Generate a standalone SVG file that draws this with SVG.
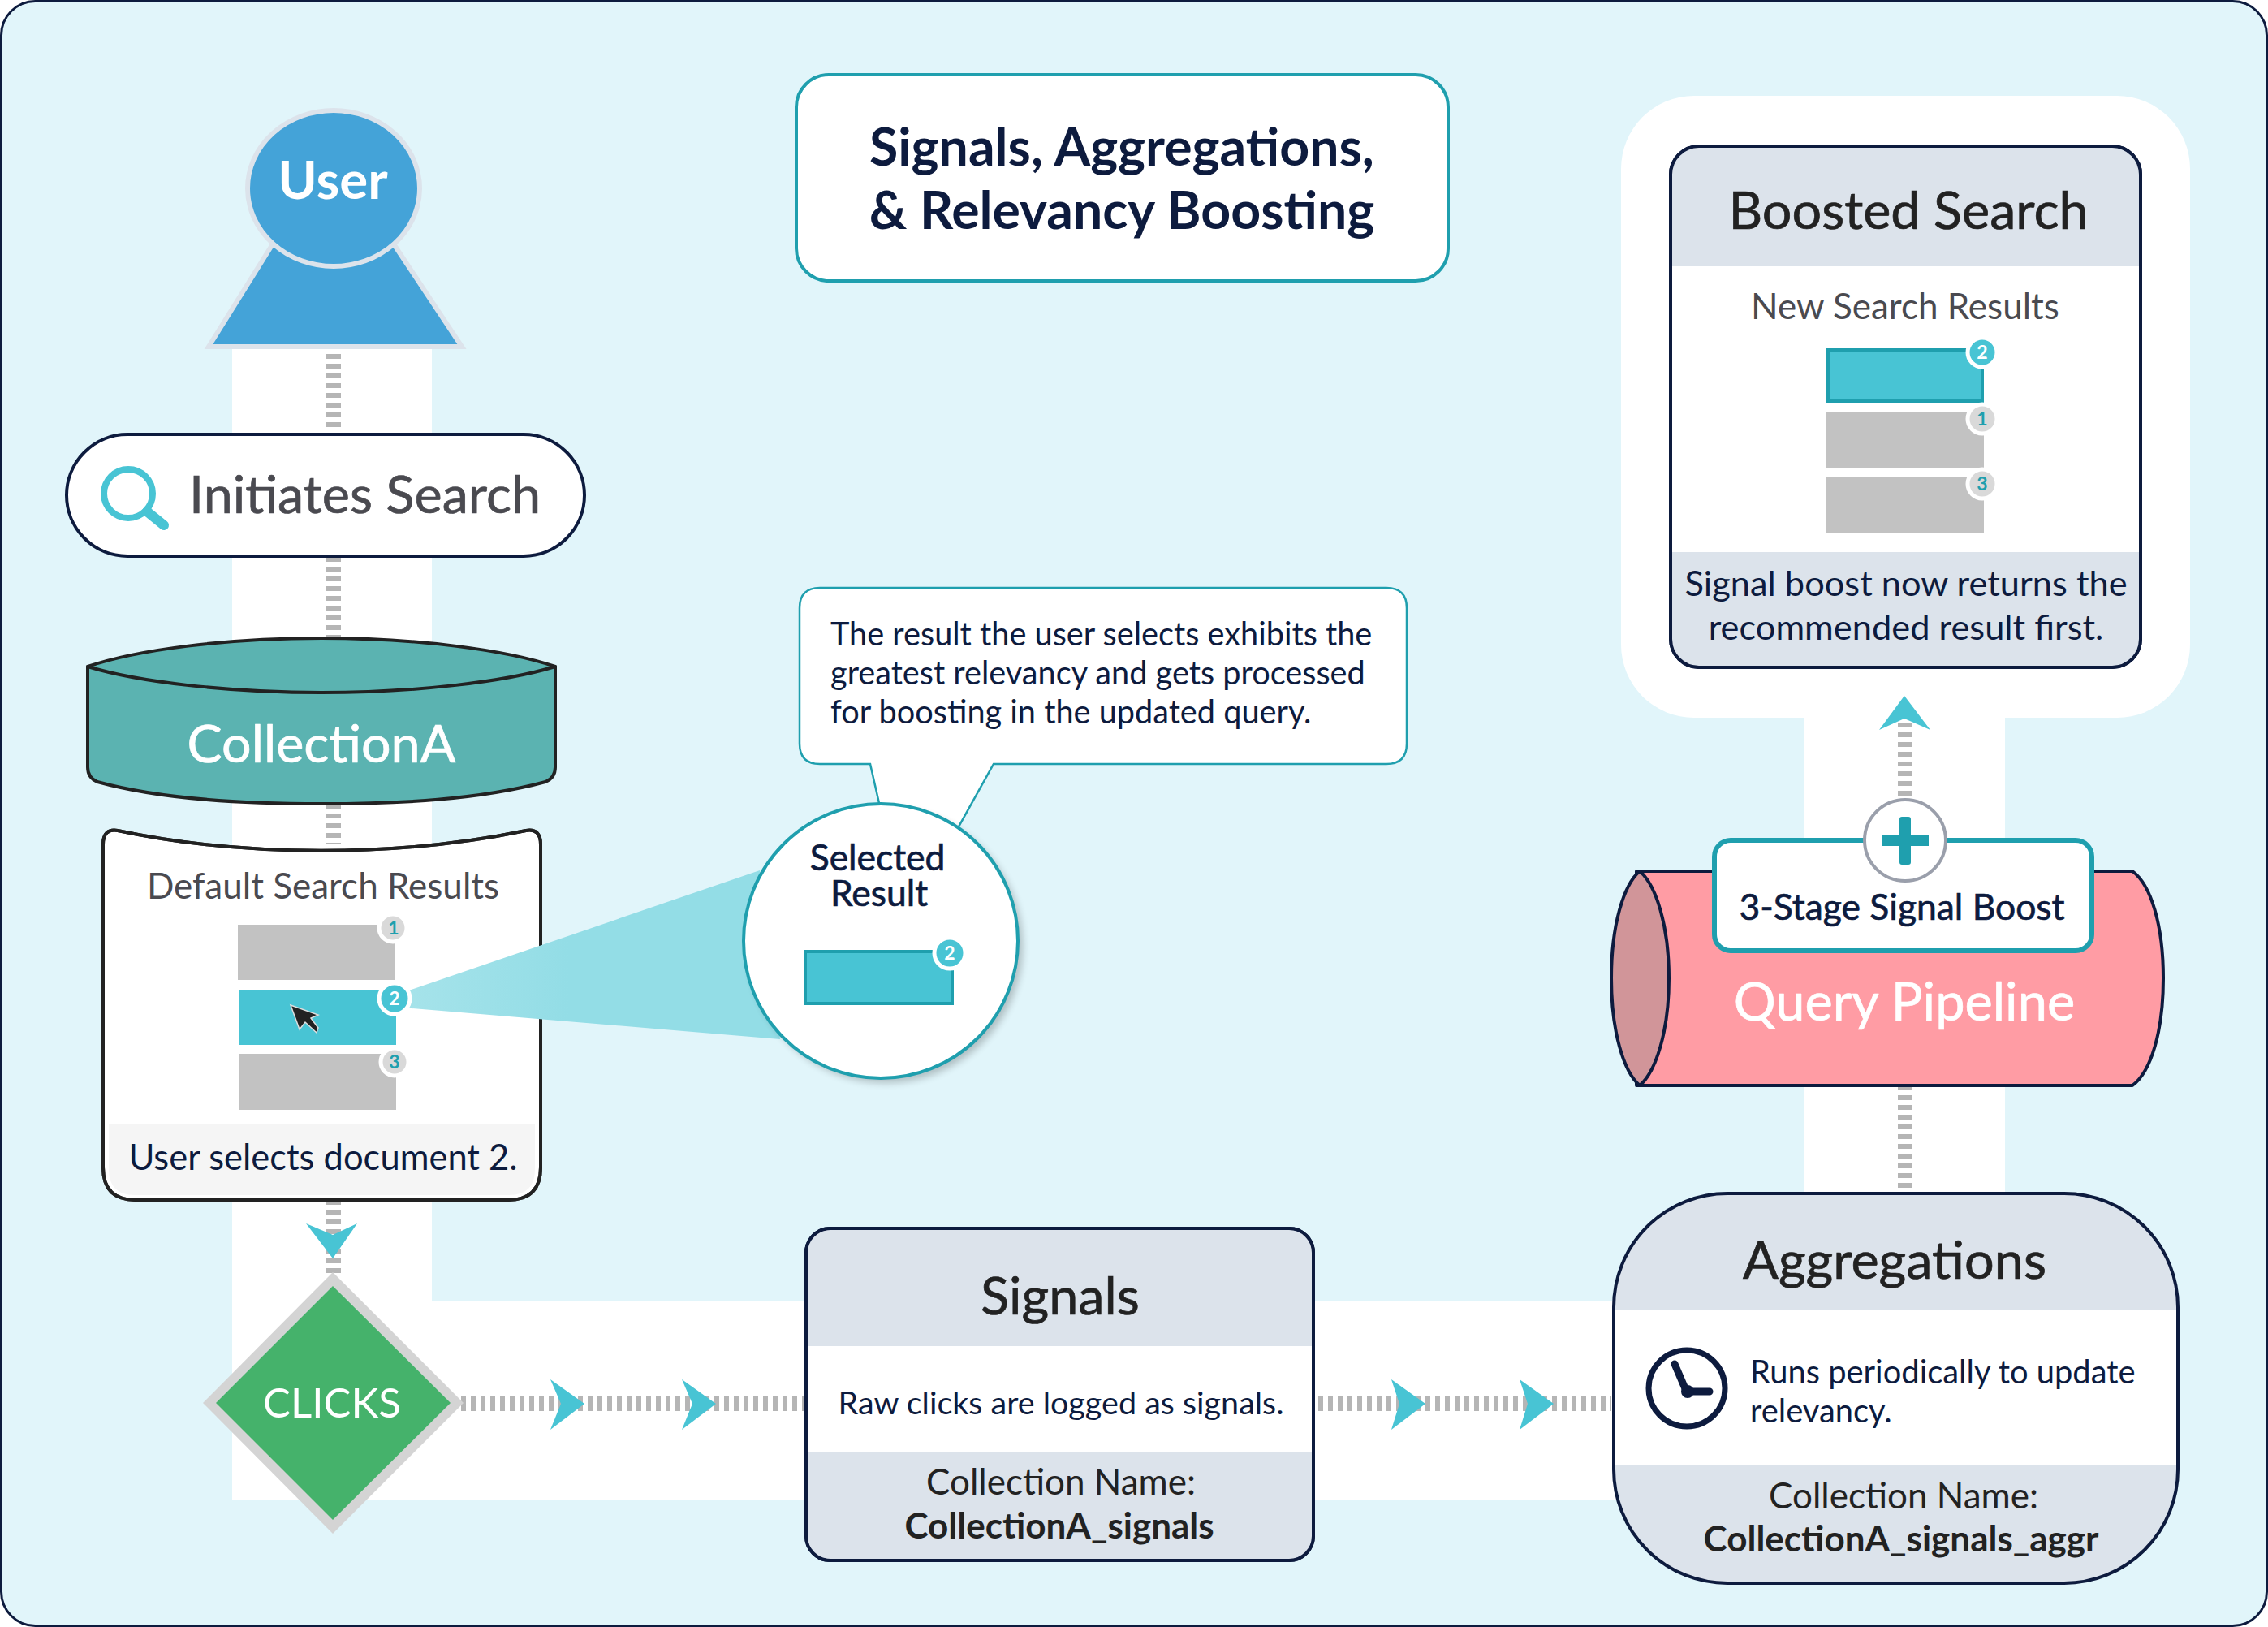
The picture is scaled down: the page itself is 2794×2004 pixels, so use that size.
<svg xmlns="http://www.w3.org/2000/svg" width="2794" height="2004" viewBox="0 0 2794 2004">
<style>
text{font-family:Lato,"Noto Sans","Liberation Sans",sans-serif}
.navy{fill:#0d1b3e}.dark{fill:#222}.grey{fill:#4a4a50}.white{fill:#fff}
.mid{text-anchor:middle}
.dash{fill:none;stroke:#b5b5b5;stroke-width:18;stroke-dasharray:6 6}
.arr{fill:#48c4d4}
.row{fill:#c2c2c2}.sel{fill:#48c4d4}
.bdg{stroke:#fff;stroke-width:5}.bg{fill:#d9d9d9}.bt{fill:#48c4d4}
.num{font-size:23px;text-anchor:middle;font-weight:700}
.hd{fill:#dce3eb}
.md{stroke-width:.7}
.dark.md{stroke:#222}.navy.md{stroke:#0d1b3e}.grey.md{stroke:#4a4a50}.white.md{stroke:#fff}
</style>
<defs>
<filter id="soft" x="-20%" y="-20%" width="140%" height="140%"><feGaussianBlur stdDeviation="5"/></filter>
<linearGradient id="coneFill" gradientUnits="userSpaceOnUse" x1="500" y1="0" x2="700" y2="0"><stop offset="0" stop-color="#a6e3ea"/><stop offset="1" stop-color="#93dde6"/></linearGradient>
</defs>
<rect id="background" x="1.5" y="1.5" width="2791" height="2001" rx="42" fill="#e1f5fa" stroke="#0d1b3e" stroke-width="3"/>
<g id="bands" fill="#fff">
<rect x="286" y="429" width="246" height="1300"/>
<rect x="286" y="1602" width="1720" height="246"/>
<rect x="2223" y="800" width="247" height="680"/>
<rect x="1997" y="118" width="701" height="766" rx="90"/>
</g>
<g id="connectors">
<path class="dash" d="M411 436V530M411 686V790M411 990V1040M411 1478V1570M568 1729H990M1624 1729H1985M2347 890V985M2347 1337V1468"/>
<path class="arr" d="M377 1507L410 1521L440 1507L410 1550Z"/>
<path class="arr" d="M678 1699L720 1729L678 1761L691 1729Z"/>
<path class="arr" d="M840 1699L882 1729L840 1761L853 1729Z"/>
<path class="arr" d="M1714 1699L1756 1729L1714 1761L1724 1729Z"/>
<path class="arr" d="M1872 1699L1914 1729L1872 1761L1882 1729Z"/>
<path class="arr" d="M2346 857L2378 899L2346 885L2315 899Z"/>
</g>
<g id="user">
<path d="M335 302L257 427H569L486 302Z" fill="#44a3d8" stroke="#dce3eb" stroke-width="6"/>
<ellipse cx="411" cy="232" rx="106" ry="96" fill="#44a3d8" stroke="#dce3eb" stroke-width="6"/>
<text class="white mid" x="410" y="245" font-size="65.5" font-weight="700">User</text>
</g>
<g id="initiates-search">
<rect x="82" y="535" width="638" height="150" rx="75" fill="#fff" stroke="#0d1b3e" stroke-width="4"/>
<circle cx="158" cy="608" r="30" fill="none" stroke="#48c4d4" stroke-width="8"/>
<path d="M181 630L202 647" stroke="#48c4d4" stroke-width="12" stroke-linecap="round"/>
<text class="grey md" x="233" y="632" font-size="64.7">Initiates Search</text>
</g>
<g id="collectiona" stroke-linejoin="round">
<path d="M108 821V945Q108 958 120 963C200 985 300 990 396 990S590 985 672 963Q684 958 684 945V821Z" fill="#5bb3b1" stroke="#222" stroke-width="4"/>
<path d="M108 821C170 800 280 786 396 786S622 800 684 821C622 840 510 853 396 853S170 840 108 821Z" fill="#5bb3b1" stroke="#222" stroke-width="4"/>
<text class="white md mid" x="396" y="939" font-size="64.6">CollectionA</text>
</g>
<g id="default-results">
<path d="M127 1040Q127 1020 145 1023C300 1056 490 1056 648 1023Q666 1020 666 1040V1438Q666 1478 626 1478H167Q127 1478 127 1438Z" fill="#fff" stroke="#222" stroke-width="4"/>
<path d="M134 1384H659V1440Q659 1472 627 1472H166Q134 1472 134 1440Z" fill="#f5f5f5"/>
<path d="M127 1040Q127 1020 145 1023C300 1056 490 1056 648 1023Q666 1020 666 1040V1438Q666 1478 626 1478H167Q127 1478 127 1438Z" fill="none" stroke="#222" stroke-width="4"/>
<text class="grey mid" x="398" y="1107" font-size="44">Default Search Results</text>
<rect class="row" x="293" y="1139" width="194" height="68"/>
<rect class="sel" x="294" y="1219" width="194" height="68"/>
<rect class="row" x="294" y="1298" width="194" height="69"/>
<path id="cone" d="M495 1223L936 1072L961 1280L495 1241Z" fill="url(#coneFill)"/>
<circle class="bdg bg" cx="484" cy="1143" r="17"/><text class="num" x="485" y="1151" fill="#1f9fae">1</text>
<circle class="bdg bt" cx="486" cy="1230" r="19"/><text class="num white" x="486" y="1238">2</text>
<circle class="bdg bg" cx="486" cy="1308" r="17"/><text class="num" x="486" y="1316" fill="#1f9fae">3</text>
<path d="M358 1238L369 1268L376 1259L390 1272L392 1266L383 1254L392 1250Z" fill="#222" stroke="#ddd" stroke-width="1.5"/>
<text class="navy mid" x="398" y="1441" font-size="43.5">User selects document 2.</text>
</g>
<g id="callout">
<path d="M1010 724H1708Q1733 724 1733 749V916Q1733 941 1708 941H1224L1180 1020H1090L1072 941H1010Q985 941 985 916V749Q985 724 1010 724Z" fill="#fff" stroke="#1f9fae" stroke-width="2.5"/>
<text class="navy" font-size="39.7"><tspan x="1023" y="795">The result the user selects exhibits the</tspan><tspan x="1023" y="843">greatest relevancy and gets processed</tspan><tspan x="1023" y="891">for boosting in the updated query.</tspan></text>
</g>
<g id="selected-result">
<circle cx="1091" cy="1165" r="169" fill="#000" opacity=".22" filter="url(#soft)"/>
<circle cx="1085" cy="1159" r="169" fill="#fff" stroke="#1f9fae" stroke-width="4"/>
<text class="navy md mid" font-size="44.4"><tspan x="1081" y="1072">Selected</tspan><tspan x="1083" y="1116">Result</tspan></text>
<rect x="992" y="1172" width="181" height="64" fill="#48c4d4" stroke="#1f9fae" stroke-width="4"/>
<circle class="bdg bt" cx="1170" cy="1174" r="19"/><text class="num white" x="1170" y="1182">2</text>
</g>
<g id="title">
<rect x="981" y="92" width="803" height="254" rx="40" fill="#fff" stroke="#1f9fae" stroke-width="4"/>
<text class="navy mid" font-size="64.4" font-weight="700"><tspan x="1382" y="204">Signals, Aggregations,</tspan><tspan x="1382" y="282">&amp; Relevancy Boosting</tspan></text>
</g>
<g id="boosted-search">
<rect x="2058" y="180" width="579" height="642" rx="35" fill="#fff" stroke="#0d1b3e" stroke-width="4"/>
<path class="hd" d="M2060 328V215Q2060 182 2093 182H2602Q2635 182 2635 215V328Z"/>
<path class="hd" d="M2060 680V787Q2060 820 2093 820H2602Q2635 820 2635 787V680Z"/>
<text class="dark md mid" x="2351" y="282" font-size="64.7">Boosted Search</text>
<text class="grey mid" x="2347" y="393" font-size="44">New Search Results</text>
<rect x="2252" y="431" width="190" height="63" fill="#48c4d4" stroke="#1f9fae" stroke-width="4"/>
<rect class="row" x="2250" y="508" width="194" height="68"/>
<rect class="row" x="2250" y="588" width="194" height="68"/>
<circle class="bdg bt" cx="2442" cy="434" r="18"/><text class="num white" x="2442" y="442">2</text>
<circle class="bdg bg" cx="2442" cy="516" r="18"/><text class="num" x="2442" y="524" fill="#1f9fae">1</text>
<circle class="bdg bg" cx="2442" cy="596" r="18"/><text class="num" x="2442" y="604" fill="#1f9fae">3</text>
<text class="navy mid" font-size="43.4"><tspan x="2348" y="734">Signal boost now returns the</tspan><tspan x="2348" y="788">recommended result first.</tspan></text>
<rect x="2058" y="180" width="579" height="642" rx="35" fill="none" stroke="#0d1b3e" stroke-width="4"/>
</g>
<g id="query-pipeline" stroke-linejoin="round">
<path d="M2016 1073H2627C2650 1090 2665 1140 2665 1205S2650 1320 2627 1337H2016Z" fill="#ff9ca4" stroke="#0d1b3e" stroke-width="4"/>
<path d="M2020 1073C2000 1090 1985 1140 1985 1205S2000 1320 2020 1337C2040 1320 2056 1270 2056 1205S2040 1090 2020 1073Z" fill="#d19599" stroke="#0d1b3e" stroke-width="4"/>
<text class="white md mid" x="2346" y="1257" font-size="64.9">Query Pipeline</text>
</g>
<g id="signal-boost">
<rect x="2112" y="1035" width="465" height="136" rx="20" fill="#fff" stroke="#1f9fae" stroke-width="6"/>
<circle cx="2347" cy="1035" r="50" fill="#fff" stroke="#9a9fab" stroke-width="4"/>
<path d="M2340 1009Q2340 1006 2343 1006H2351Q2354 1006 2354 1009V1029H2376V1042H2354V1062Q2354 1065 2351 1065H2343Q2340 1065 2340 1062V1042H2318V1029H2340Z" fill="#1f9fae"/>
<text class="navy md mid" x="2343" y="1133" font-size="44.4">3-Stage Signal Boost</text>
</g>
<g id="clicks">
<path d="M410 1567L571 1728L410 1889L250 1728Z" fill="#d4d4d4"/>
<path d="M410 1584L555 1728L410 1872L266 1728Z" fill="#45b26b"/>
<text class="white mid" x="409" y="1746" font-size="51">CLICKS</text>
</g>
<g id="signals">
<rect x="993" y="1513" width="625" height="409" rx="30" fill="#fff" stroke="#0d1b3e" stroke-width="4"/>
<path class="hd" d="M995 1658V1543Q995 1515 1023 1515H1588Q1616 1515 1616 1543V1658Z"/>
<path class="hd" d="M995 1788V1892Q995 1920 1023 1920H1588Q1616 1920 1616 1892V1788Z"/>
<rect x="993" y="1513" width="625" height="409" rx="30" fill="none" stroke="#0d1b3e" stroke-width="4"/>
<text class="dark md mid" x="1306" y="1619" font-size="64.8">Signals</text>
<text class="navy mid" x="1307" y="1742" font-size="39.5">Raw clicks are logged as signals.</text>
<text class="dark mid" x="1307" y="1841" font-size="44">Collection Name:</text>
<text class="dark mid" x="1305" y="1895" font-size="44" font-weight="700">CollectionA_signals</text>
</g>
<g id="aggregations">
<rect x="1988" y="1470" width="695" height="480" rx="140" fill="#fff"/>
<path class="hd" d="M1988 1614V1610A140 140 0 0 1 2128 1470H2543A140 140 0 0 1 2683 1610V1614Z"/>
<path class="hd" d="M1988 1804V1810A140 140 0 0 0 2128 1950H2543A140 140 0 0 0 2683 1810V1804Z"/>
<rect x="1988" y="1470" width="695" height="480" rx="140" fill="none" stroke="#0d1b3e" stroke-width="4"/>
<text class="dark md mid" x="2334" y="1575" font-size="64.8">Aggregations</text>
<circle cx="2078" cy="1710" r="47" fill="#fff" stroke="#0d1b3e" stroke-width="7"/>
<path d="M2063 1680L2078 1715M2078 1714H2106" fill="none" stroke="#0d1b3e" stroke-width="9" stroke-linecap="round"/>
<circle cx="2079" cy="1714" r="8" fill="#0d1b3e"/>
<text class="navy" x="2156" y="1704" font-size="39.9">Runs periodically to update</text>
<text class="navy" x="2156" y="1752" font-size="39.9">relevancy.</text>
<text class="dark mid" x="2345" y="1858" font-size="44">Collection Name:</text>
<text class="dark mid" x="2342" y="1911" font-size="44" font-weight="700">CollectionA_signals_aggr</text>
</g>
</svg>
